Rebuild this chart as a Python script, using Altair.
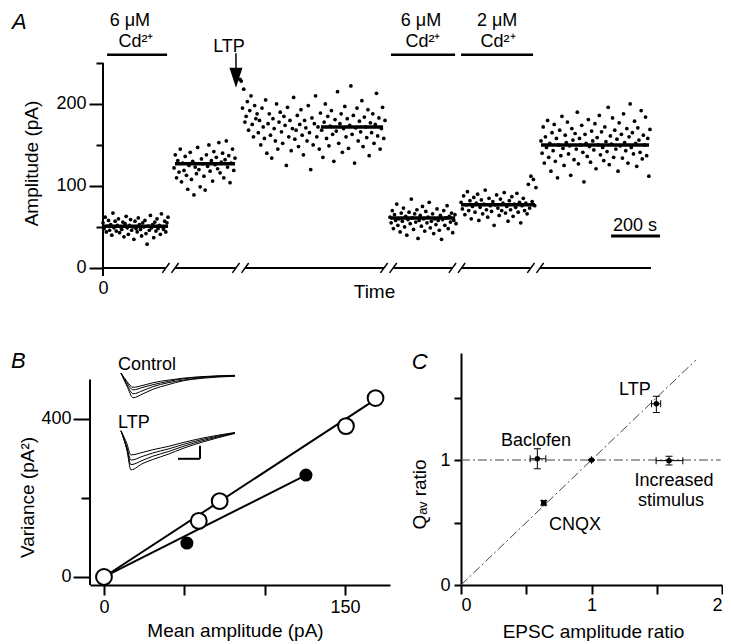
import altair as alt
import numpy as np
import pandas as pd

FONT = "Liberation Sans"

# ---------------- Panel A : EPSC amplitude vs time (broken time axis) ----------------
seg1 = [55, 48, 62, 44, 51, 58, 46, 53, 40, 67, 49, 57, 45, 52, 60, 43, 50, 47, 56, 38,
        54, 63, 49, 41, 52, 59, 46, 50, 35, 57, 48, 44, 61, 53, 47, 39, 55, 50, 58, 42,
        29, 51, 46, 64, 49, 53, 37, 56, 45, 60, 48, 52, 41, 66, 50, 47, 57, 44, 55, 62]
seg2 = [122, 138, 110, 131, 117, 145, 105, 128, 119, 136, 113, 96, 125, 141, 108, 130, 89,
        123, 115, 147, 120, 99, 133, 127, 112, 95, 138, 124, 150, 118, 131, 106, 142, 126,
        135, 121, 153, 116, 129, 140, 110, 132, 155, 123, 137, 104, 128, 145, 119, 134]
seg3 = [230, 228, 195, 218, 178, 185, 203, 168, 192, 210, 175, 160, 198, 182, 188,
        165, 180, 150, 195, 172, 158, 205, 140, 176, 188, 162, 134, 182, 170, 155, 200,
        145, 178, 190, 166, 152, 185, 174, 125, 196, 160, 180, 143, 170, 208, 157, 168,
        186, 148, 175, 193, 162, 138, 180, 171, 155, 198, 165, 120, 183, 150, 176, 210,
        160, 172, 145, 189, 168, 135, 178, 200, 158, 185, 149, 173, 192, 163, 130, 181,
        167, 215, 152, 176, 188, 141, 170, 197, 160, 182, 146, 174, 222, 163, 186, 128,
        171, 195, 155, 179, 166, 204, 148, 184, 172, 159, 193, 137, 177, 165, 188, 152,
        175, 213, 161, 183, 145, 170, 196, 158, 180]
seg4 = [62, 55, 70, 48, 65, 58, 78, 52, 60, 44, 67, 57, 73, 50, 63, 40, 59, 68, 54, 84,
        61, 47, 66, 56, 71, 36, 58, 64, 51, 75, 60, 45, 69, 55, 62, 80, 49, 57, 66, 42,
        60, 53, 72, 58, 46, 64, 35, 59, 70, 52, 61, 76, 48, 63, 56, 67, 43, 58, 65, 54]
seg5 = [80, 72, 88, 65, 77, 93, 70, 82, 60, 75, 86, 68, 79, 90, 58, 74, 83, 66, 78, 95,
        71, 62, 85, 76, 69, 81, 52, 77, 89, 73, 64, 84, 70, 79, 92, 67, 75, 57, 82, 71,
        87, 63, 78, 74, 91, 68, 80, 55, 76, 85, 70, 79, 66, 102, 73, 112, 81, 108, 76, 98]
seg6 = [155, 140, 172, 128, 160, 147, 180, 135, 152, 118, 165, 143, 175, 130, 158, 110,
        150, 168, 137, 185, 146, 125, 162, 153, 178, 139, 149, 113, 170, 156, 132, 164,
        145, 190, 127, 158, 150, 174, 141, 105, 163, 152, 136, 181, 148, 129, 167, 155,
        144, 176, 121, 159, 150, 186, 138, 166, 147, 131, 172, 154, 142, 196, 126, 161,
        151, 183, 135, 168, 145, 157, 118, 177, 149, 163, 134, 188, 153, 143, 170, 128,
        160, 200, 147, 165, 139, 179, 152, 124, 171, 156, 141, 192, 133, 162, 150, 184,
        137, 158, 112, 169]
seg_amps = [seg1, seg2, seg3, seg4, seg5, seg6]
seg_span_s = [(0, 271), (296, 550), (571, 1175), (1196, 1471), (1492, 1804), (1825, 2279)]
mean_amp = [51, 127, 172, 61, 77, 150]
mean_span_s = [(0, 271), (300, 550), (908, 1167), (1196, 1467), (1492, 1800), (1825, 2275)]
break_s = [281, 573, 1190, 1475, 1802]
axis_end_s = 2283

treat_span_s = [(17, 267), (1200, 1467), (1492, 1792)]
treat_level = 260
a_text = ["6 μM", "Cd²⁺", "6 μM", "Cd²⁺", "2 μM", "Cd²⁺", "LTP", "200 s"]
a_text_t = [112, 137, 1325, 1333, 1642, 1646, 525, 2217]
a_text_v = [295.6, 270, 295.6, 270, 295.6, 270, 263, 45]
arrow_t = 554
arrow_v = (262, 238, 232)
scalebar_s = (2117, 2321)
scalebar_v = 39

# ---------------- Panel B : variance vs mean ----------------
open_mean = [0, 59, 72, 150.6, 169]
open_var = [0, 142, 192, 382, 453]
filled_mean = [51.6, 125.7]
filled_var = [86, 258]
fit_open = ([0, 170], [0, 452])
fit_filled = ([0, 125.7], [0, 258])

inset_ms = [0, 2.7, 5.5, 10, 14.5, 21.4, 28.2, 37.3, 51.8]
control_traces = [
    [0, -20, -38, -32, -25, -18, -12, -8, -5],
    [0, -18, -32, -27, -21, -15, -11, -7, -4.5],
    [0, -15, -26, -22, -18, -13, -9, -6, -4],
    [0, -13, -22, -19, -15, -11, -8, -5.5, -3.5],
]
ltp_ms = [0, 2.7, 4.5, 10, 14.5, 21.4, 28.2, 37.3, 51.8]
ltp_traces = [
    [0, -30, -60, -50, -44, -36, -27, -17, -4],
    [0, -28, -52, -45, -39, -32, -24, -15, -3.5],
    [0, -25, -45, -39, -34, -28, -21, -13, -3],
    [0, -20, -37, -33, -29, -24, -18, -11, -2.5],
]
LTP_SHIFT = -89
inset_bar_ms = (25.9, 35.9)
inset_bar_pA = (-132, -112)

# ---------------- Panel C : Qav ratio vs EPSC ratio ----------------
c_names = ["Baclofen", "Control", "LTP", "Increased stimulus", "CNQX"]
c_x = [0.585, 1.0, 1.497, 1.594, 0.634]
c_y = [1.01, 1.0, 1.45, 0.995, 0.656]
c_x_lo = [0.53, 1.0, 1.46, 1.495, 0.62]
c_x_hi = [0.65, 1.0, 1.53, 1.70, 0.65]
c_y_lo = [0.93, 1.0, 1.38, 0.96, 0.64]
c_y_hi = [1.09, 1.0, 1.51, 1.03, 0.675]
c_text = ["C", "LTP", "Baclofen", "Increased", "stimulus", "CNQX"]
c_text_x = [-0.378, 1.333, 0.575, 1.632, 1.609, 0.874]
c_text_y = [1.728, 1.52, 1.112, 0.792, 0.632, 0.44]

# ======================= build panel A =======================
rows = []
for amps, (a, b) in zip(seg_amps, seg_span_s):
    ts = np.linspace(a, b, len(amps))
    rows += [{"t": float(t), "amp": v} for t, v in zip(ts, amps)]
dfA = pd.DataFrame(rows)

xA = alt.Scale(domain=[-54.2, 2283.3], nice=False, zero=False)
yA = alt.Scale(domain=[-9.8, 313.4], nice=False, zero=False)
axAx = alt.Axis(values=[0], domain=False, ticks=False, grid=False, labelPadding=3,
                title="Time", titleX=284, titleY=15, titleBaseline="middle", titleAlign="center")
axAy = alt.Axis(values=[0, 50, 100, 150, 200, 250], domain=False, grid=False, offset=-13,
                labelExpr="datum.value % 100 === 0 ? datum.label : ''",
                tickSize={"condition": {"test": "datum.value % 100 === 0", "value": 14}, "value": 7},
                labelPadding=3, title="Amplitude (pA)", titleAngle=270, titleX=-72, titleY=152,
                titleBaseline="middle", titleAlign="center")


def XA(f):
    return alt.X(f, type="quantitative", scale=xA, axis=axAx)


def YA(f):
    return alt.Y(f, type="quantitative", scale=yA, axis=axAy)


A_pts = alt.Chart(dfA).mark_circle(size=14, color="black", opacity=1).encode(x=XA("t"), y=YA("amp"))

dfMean = pd.DataFrame({"t0": [s[0] for s in mean_span_s], "t1": [s[1] for s in mean_span_s], "amp": mean_amp})
A_mean = alt.Chart(dfMean).mark_rule(strokeWidth=3.5, color="black").encode(x=XA("t0"), x2="t1", y=YA("amp"))

ax_starts = [0] + [b + 19 for b in break_s]
ax_ends = [b - 19 for b in break_s] + [axis_end_s]
dfAxis = pd.DataFrame({"t0": ax_starts, "t1": ax_ends, "amp": [0] * len(ax_starts)})
A_axis = alt.Chart(dfAxis).mark_rule(strokeWidth=2, color="black").encode(x=XA("t0"), x2="t1", y=YA("amp"))

sl = []
for b in break_s:
    for off in (-19, 19):
        sl.append({"t0": b + off - 15, "t1": b + off + 15, "v0": -6, "v1": 6})
A_slash = alt.Chart(pd.DataFrame(sl)).mark_rule(strokeWidth=1.5, color="black").encode(
    x=XA("t0"), x2="t1", y=YA("v0"), y2="v1")

A_yline = alt.Chart(pd.DataFrame({"t": [0], "v0": [-9.8], "v1": [250]})).mark_rule(
    strokeWidth=2, color="black").encode(x=XA("t"), y=YA("v0"), y2="v1")

dfTreat = pd.DataFrame({"t0": [s[0] for s in treat_span_s], "t1": [s[1] for s in treat_span_s],
                        "v": [treat_level] * 3})
A_treat = alt.Chart(dfTreat).mark_rule(strokeWidth=2.5, color="black").encode(x=XA("t0"), x2="t1", y=YA("v"))

A_txt = alt.Chart(pd.DataFrame({"t": a_text_t, "v": a_text_v, "label": a_text})).mark_text(
    fontSize=18, align="center", baseline="alphabetic", color="black").encode(
    x=XA("t"), y=YA("v"), text="label")

A_arrow = alt.Chart(pd.DataFrame({"t": [arrow_t], "v0": [arrow_v[0]], "v1": [arrow_v[1]]})).mark_rule(
    strokeWidth=1.5, color="black").encode(x=XA("t"), y=YA("v0"), y2="v1")
A_head = alt.Chart(pd.DataFrame({"t": [arrow_t], "v": [arrow_v[2]]})).mark_point(
    shape="M-0.65,-1L0.65,-1L0,1Z", filled=True, size=400, color="black", opacity=1).encode(
    x=XA("t"), y=YA("v"))

A_bar = alt.Chart(pd.DataFrame({"t0": [scalebar_s[0]], "t1": [scalebar_s[1]], "v": [scalebar_v]})).mark_rule(
    strokeWidth=3, color="black").encode(x=XA("t0"), x2="t1", y=YA("v"))

A_letter = alt.Chart(pd.DataFrame({"t": [-379], "v": [292], "label": ["A"]})).mark_text(
    fontSize=22, fontStyle="italic", align="left", baseline="alphabetic", color="black").encode(
    x=XA("t"), y=YA("v"), text="label")

panelA = alt.layer(A_axis, A_slash, A_yline, A_pts, A_mean, A_treat, A_txt, A_arrow, A_head,
                   A_bar, A_letter).properties(width=561, height=265)

# ======================= build panel B =======================
xB = alt.Scale(domain=[-8.7, 178], nice=False, zero=False)
yB = alt.Scale(domain=[-20.3, 567.1], nice=False, zero=False)
axBx = alt.Axis(values=[0, 50, 100, 150], grid=False, tickSize=10, labelPadding=3,
                labelExpr="(datum.value === 0 || datum.value === 150) ? datum.label : ''",
                title="Mean amplitude (pA)", titleX=145, titleY=45, titleBaseline="middle",
                titleAlign="center")
axBy = alt.Axis(values=[0, 200, 400], grid=False, domain=False, labelPadding=2,
                labelExpr="datum.value !== 200 ? datum.label : ''",
                tickSize={"condition": {"test": "datum.value !== 200", "value": 17}, "value": 9},
                title="Variance (pA²)", titleAngle=270, titleX=-63, titleY=144,
                titleBaseline="middle", titleAlign="center")


def XB(f):
    return alt.X(f, type="quantitative", scale=xB, axis=axBx)


def YB(f):
    return alt.Y(f, type="quantitative", scale=yB, axis=axBy)


B_yline = alt.Chart(pd.DataFrame({"m": [-8.7], "v0": [-20.3], "v1": [500]})).mark_rule(
    strokeWidth=2, color="black").encode(x=XB("m"), y=YB("v0"), y2="v1")
dfFit = pd.DataFrame({"m": fit_open[0] + fit_filled[0], "v": fit_open[1] + fit_filled[1],
                      "fit": ["open", "open", "filled", "filled"]})
B_fit = alt.Chart(dfFit).mark_line(strokeWidth=2, color="black").encode(
    x=XB("m"), y=YB("v"), detail="fit:N")
B_open = alt.Chart(pd.DataFrame({"m": open_mean, "v": open_var})).mark_point(
    shape="circle", filled=True, fill="white", stroke="black", strokeWidth=2, size=250, opacity=1).encode(
    x=XB("m"), y=YB("v"))
B_filled = alt.Chart(pd.DataFrame({"m": filled_mean, "v": filled_var})).mark_circle(
    size=170, color="black", opacity=1).encode(x=XB("m"), y=YB("v"))
B_letter = alt.Chart(pd.DataFrame({"m": [-57.9], "v": [529], "label": ["B"]})).mark_text(
    fontSize=22, fontStyle="italic", align="left", baseline="alphabetic", color="black").encode(
    x=XB("m"), y=YB("v"), text="label")
B_main = alt.layer(B_yline, B_fit, B_open, B_filled, B_letter)

# inset EPSC traces on their own (hidden) scales
xI = alt.Scale(domain=[-14.09, 122.27], nice=False, zero=False)
yI = alt.Scale(domain=[-326.15, 30.77], nice=False, zero=False)
tr = []
for k, trace in enumerate(control_traces):
    tr += [{"ms": t, "pA": v, "id": f"c{k}"} for t, v in zip(inset_ms, trace)]
for k, trace in enumerate(ltp_traces):
    tr += [{"ms": t, "pA": v + LTP_SHIFT, "id": f"l{k}"} for t, v in zip(ltp_ms, trace)]
I_tr = alt.Chart(pd.DataFrame(tr)).mark_line(strokeWidth=1, color="black", interpolate="monotone").encode(
    x=alt.X("ms:Q", scale=xI, axis=None), y=alt.Y("pA:Q", scale=yI, axis=None), detail="id:N")
dfSB = pd.DataFrame({"ms0": [inset_bar_ms[0], inset_bar_ms[1]], "ms1": [inset_bar_ms[1], inset_bar_ms[1]],
                     "p0": [inset_bar_pA[0], inset_bar_pA[0]], "p1": [inset_bar_pA[0], inset_bar_pA[1]]})
I_sb = alt.Chart(dfSB).mark_rule(strokeWidth=2, color="black").encode(
    x=alt.X("ms0:Q", scale=xI, axis=None), x2="ms1", y=alt.Y("p0:Q", scale=yI, axis=None), y2="p1")
I_txt = alt.Chart(pd.DataFrame({"ms": [-1.36, -1.36], "pA": [4.6, -84.6], "label": ["Control", "LTP"]})).mark_text(
    fontSize=18, align="left", baseline="alphabetic", color="black").encode(
    x=alt.X("ms:Q", scale=xI, axis=None), y=alt.Y("pA:Q", scale=yI, axis=None), text="label")
B_inset = alt.layer(I_tr, I_sb, I_txt)

panelB = alt.layer(B_main, B_inset).resolve_scale(x="independent", y="independent").properties(
    width=300, height=232)

# ======================= build panel C =======================
xC = alt.Scale(domain=[0, 2], nice=False, zero=False)
yC = alt.Scale(domain=[0, 1.856], nice=False, zero=False)
axCx = alt.Axis(values=[0, 0.5, 1, 1.5, 2], grid=False, tickSize=9, labelPadding=2,
                labelExpr="datum.value % 1 === 0 ? format(datum.value, 'd') : ''",
                title="EPSC amplitude ratio", titleX=132, titleY=46, titleBaseline="middle",
                titleAlign="center")
axCy = alt.Axis(values=[0, 0.5, 1, 1.5], grid=False, tickSize=7, labelPadding=4,
                labelExpr="datum.value % 1 === 0 ? format(datum.value, 'd') : ''",
                title="Qₐᵥ ratio", titleAngle=270, titleX=-42, titleY=141,
                titleBaseline="middle", titleAlign="center")


def XC(f):
    return alt.X(f, type="quantitative", scale=xC, axis=axCx)


def YC(f):
    return alt.Y(f, type="quantitative", scale=yC, axis=axCy)


dfRef = pd.DataFrame({"u": [0, 1.8, 0, 1.99], "r": [0, 1.8, 1, 1], "line": ["diag", "diag", "h", "h"]})
C_ref = alt.Chart(dfRef).mark_line(strokeWidth=1, color="#444444", strokeDash=[9, 3, 2, 3]).encode(
    x=XC("u"), y=YC("r"), detail="line:N")
dfC = pd.DataFrame({"name": c_names, "u": c_x, "r": c_y, "ulo": c_x_lo, "uhi": c_x_hi,
                    "rlo": c_y_lo, "rhi": c_y_hi})
C_xe = alt.Chart(dfC).mark_rule(strokeWidth=1, color="black").encode(x=XC("ulo"), x2="uhi", y=YC("r"))
C_ye = alt.Chart(dfC).mark_rule(strokeWidth=1, color="black").encode(x=XC("u"), y=YC("rlo"), y2="rhi")
C_xcap1 = alt.Chart(dfC).mark_tick(orient="vertical", size=7, thickness=1, color="black", opacity=1).encode(
    x=XC("ulo"), y=YC("r"))
C_xcap2 = alt.Chart(dfC).mark_tick(orient="vertical", size=7, thickness=1, color="black", opacity=1).encode(
    x=XC("uhi"), y=YC("r"))
C_ycap1 = alt.Chart(dfC).mark_tick(orient="horizontal", size=7, thickness=1, color="black", opacity=1).encode(
    x=XC("u"), y=YC("rlo"))
C_ycap2 = alt.Chart(dfC).mark_tick(orient="horizontal", size=7, thickness=1, color="black", opacity=1).encode(
    x=XC("u"), y=YC("rhi"))
C_pts = alt.Chart(dfC).mark_circle(size=30, color="black", opacity=1).encode(x=XC("u"), y=YC("r"))
dfCt = pd.DataFrame({"u": c_text_x, "r": c_text_y, "label": c_text})
C_txt = alt.Chart(dfCt.iloc[1:]).mark_text(fontSize=18, align="center", baseline="alphabetic",
                                          color="black").encode(x=XC("u"), y=YC("r"), text="label")
C_letter = alt.Chart(dfCt.iloc[:1]).mark_text(fontSize=22, fontStyle="italic", align="left",
                                             baseline="alphabetic", color="black").encode(
    x=XC("u"), y=YC("r"), text="label")

panelC = alt.layer(C_ref, C_xe, C_ye, C_xcap1, C_xcap2, C_ycap1, C_ycap2, C_pts, C_txt,
                   C_letter).properties(width=261, height=232)

chart = alt.vconcat(
    panelA,
    alt.hconcat(panelB, panelC, spacing=71, bounds="flush"),
    spacing=77, bounds="flush",
).properties(padding={"left": 2, "top": 2, "right": 0, "bottom": 0}).configure_view(
    stroke=None).configure_axis(
    labelFont=FONT, titleFont=FONT, labelFontSize=18, titleFontSize=19, titleFontWeight="normal",
    labelColor="black", titleColor="black", domainColor="black", tickColor="black",
    domainWidth=2, tickWidth=2,
).configure_text(font=FONT)

chart.save("out.html", embed_options={"renderer": "svg", "actions": False})
